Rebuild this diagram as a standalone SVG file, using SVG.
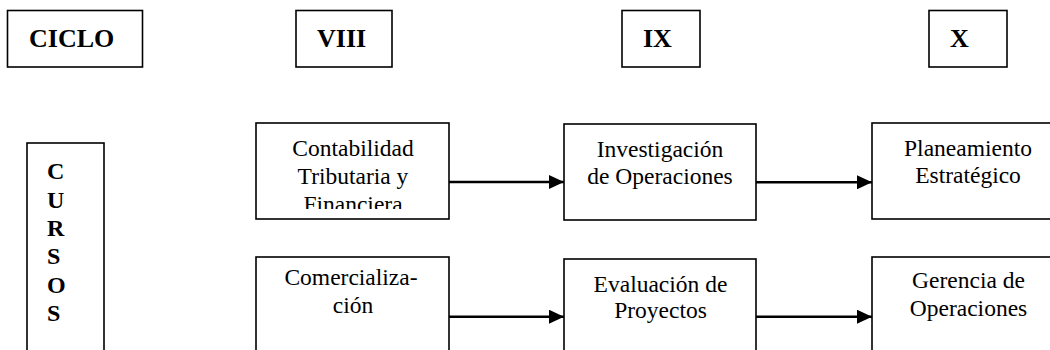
<svg xmlns="http://www.w3.org/2000/svg" width="1050" height="350" viewBox="0 0 1050 350">
<style>
.box{fill:#fff;stroke:#000;stroke-width:1.6}
text{font-family:'Liberation Serif','Tinos','DejaVu Serif',serif;fill:#000}
.hd{font-weight:bold;font-size:26px}
.vt{font-weight:bold;font-size:24px}
.tx{font-size:23.5px;text-anchor:middle}
.cn{stroke:#000;stroke-width:2.5;fill:none}
</style>
<defs>
<marker id="ah" viewBox="0 0 15 14" refX="15" refY="7" markerWidth="15" markerHeight="14" markerUnits="userSpaceOnUse" orient="auto">
<path d="M0,0 L15,7 L0,14 Z" fill="#000"/>
</marker>
<clipPath id="clipC"><rect x="256" y="123" width="193" height="86"/></clipPath>
</defs>
<rect width="1050" height="350" fill="#fff"/>
<g id="ciclo"><rect class="box" x="7.5" y="10.5" width="135" height="56.5"/><text class="hd" x="29" y="47">CICLO</text></g>
<g id="viii"><rect class="box" x="296" y="10.5" width="96" height="56.5"/><text class="hd" x="317" y="47">VIII</text></g>
<g id="ix"><rect class="box" x="622" y="10.5" width="78" height="56.5"/><text class="hd" x="643" y="47">IX</text></g>
<g id="x"><rect class="box" x="929" y="10.5" width="78" height="56.5"/><text class="hd" x="950" y="47">X</text></g>
<g id="cursos"><rect class="box" x="27" y="143" width="77" height="230"/>
<text class="vt" x="47" y="179">C</text><text class="vt" x="47" y="208">U</text><text class="vt" x="47" y="236">R</text><text class="vt" x="47" y="264">S</text><text class="vt" x="47" y="293">O</text><text class="vt" x="47" y="321">S</text></g>
<g id="contabilidad"><rect class="box" x="256" y="123" width="193" height="96"/>
<g clip-path="url(#clipC)"><text class="tx" x="353" y="156">Contabilidad</text><text class="tx" x="353" y="184">Tributaria y</text><text class="tx" x="353" y="212">Financiera</text></g></g>
<g id="investigacion"><rect class="box" x="564" y="124" width="192" height="96"/>
<text class="tx" x="660" y="156.7">Investigación</text><text class="tx" x="660" y="184.3">de Operaciones</text></g>
<g id="planeamiento"><rect class="box" x="872" y="123" width="192" height="96"/>
<text class="tx" x="968" y="155.7">Planeamiento</text><text class="tx" x="968" y="183.3">Estratégico</text></g>
<g id="comercializacion"><rect class="box" x="256" y="257" width="193" height="120"/>
<text class="tx" x="351" y="285">Comercializa-</text><text class="tx" x="353" y="313">ción</text></g>
<g id="evaluacion"><rect class="box" x="564" y="259" width="192" height="120"/>
<text class="tx" x="660.5" y="291.7">Evaluación de</text><text class="tx" x="660.5" y="318.3">Proyectos</text></g>
<g id="gerencia"><rect class="box" x="872" y="257" width="192" height="120"/>
<text class="tx" x="968.5" y="288.3">Gerencia de</text><text class="tx" x="968.5" y="315.7">Operaciones</text></g>
<g id="connectors">
<line class="cn" x1="449" y1="182" x2="564" y2="182" marker-end="url(#ah)"/>
<line class="cn" x1="756" y1="182.3" x2="872" y2="182.3" marker-end="url(#ah)"/>
<line class="cn" x1="449" y1="316.7" x2="564" y2="316.7" marker-end="url(#ah)"/>
<line class="cn" x1="756" y1="316.7" x2="872" y2="316.7" marker-end="url(#ah)"/>
</g>
</svg>
